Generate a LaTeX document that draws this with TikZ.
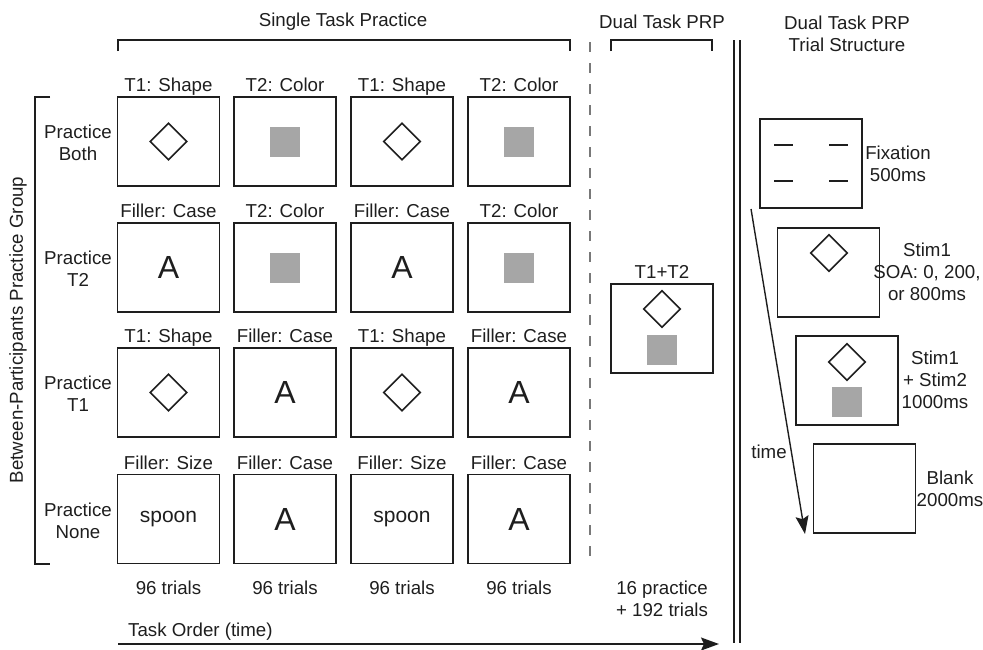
\documentclass[tikz,border=0pt]{standalone}
\usepackage{fontspec}
\setmainfont{Liberation Sans}
\usetikzlibrary{shapes.geometric,arrows.meta}
\definecolor{sqgray}{RGB}{166,166,166}
\definecolor{dashgray}{RGB}{120,120,120}
\definecolor{ink}{RGB}{30,30,30}
\newcommand{\mycell}[4]{%
  \node[scr] (#1) at (#2,#3) {};
  \node[lbl,anchor=base] (#1t) at (#2,#3-50) {#4};}
\newcommand{\mydia}[1]{\node[dia] (#1d) at (#1) {};}
\newcommand{\mysq}[1]{\node[gsq] (#1g) at (#1) {};}
\newcommand{\myA}[1]{\node[bigA] (#1a) at (#1) {A};}
\newcommand{\myspoon}[1]{\node[spoonf] (#1s) at (#1) {spoon};}
\begin{document}
\begin{tikzpicture}[x=1pt,y=-1pt, color=ink,
  lbl/.style={font=\fontsize{18.7}{22}\selectfont, inner sep=0pt, align=center},
  scr/.style={draw, line width=1.6pt, minimum width=102pt, minimum height=89pt, inner sep=0pt},
  dia/.style={diamond, draw, line width=1.6pt, minimum width=37pt, minimum height=37pt, inner sep=0pt},
  gsq/.style={fill=sqgray, minimum size=30pt, inner sep=0pt},
  bigA/.style={font=\fontsize{32}{32}\selectfont, inner sep=0pt},
  spoonf/.style={font=\fontsize{21}{21}\selectfont, inner sep=0pt},
  brk/.style={line width=1.6pt},
  arr/.style={line width=1.6pt, -{Stealth[length=18pt,width=13pt,inset=3pt]}}]
\useasboundingbox (0,0) rectangle (983,649);

% headers
\node[lbl] (hsingle) at (343,22) {Single Task Practice};
\node[lbl] (hdual) at (662,22) {Dual Task PRP};
\node[lbl] (htrial) at (847,34) {Dual Task PRP\\Trial Structure};
\draw[brk] (118,51) -- (118,40) -- (570,40) -- (570,51);
\draw[brk] (611,51) -- (611,40) -- (712,40) -- (712,51);

% left group bracket
\draw[brk] (50,97) -- (35,97) -- (35,564) -- (50,564);
\node[lbl, rotate=90] (grp) at (18,330) {Between-Participants Practice Group};

% row labels
\node[lbl] (r1) at (78,143) {Practice\\Both};
\node[lbl] (r2) at (78,269) {Practice\\T2};
\node[lbl] (r3) at (78,394) {Practice\\T1};
\node[lbl] (r4) at (78,520.5) {Practice\\None};

% row 1
\mycell{b11}{168.5}{141.5}{T1: Shape} \mydia{b11}
\mycell{b12}{285}{141.5}{T2: Color} \mysq{b12}
\mycell{b13}{402}{141.5}{T1: Shape} \mydia{b13}
\mycell{b14}{519}{141.5}{T2: Color} \mysq{b14}
% row 2
\mycell{b21}{168.5}{267.5}{Filler: Case} \myA{b21}
\mycell{b22}{285}{267.5}{T2: Color} \mysq{b22}
\mycell{b23}{402}{267.5}{Filler: Case} \myA{b23}
\mycell{b24}{519}{267.5}{T2: Color} \mysq{b24}
% row 3
\mycell{b31}{168.5}{392.5}{T1: Shape} \mydia{b31}
\mycell{b32}{285}{392.5}{Filler: Case} \myA{b32}
\mycell{b33}{402}{392.5}{T1: Shape} \mydia{b33}
\mycell{b34}{519}{392.5}{Filler: Case} \myA{b34}
% row 4
\mycell{b41}{168.5}{519}{Filler: Size} \myspoon{b41}
\mycell{b42}{285}{519}{Filler: Case} \myA{b42}
\mycell{b43}{402}{519}{Filler: Size} \myspoon{b43}
\mycell{b44}{519}{519}{Filler: Case} \myA{b44}

% trials
\node[lbl] (n1) at (168.5,588) {96 trials};
\node[lbl] (n2) at (285,588) {96 trials};
\node[lbl] (n3) at (402,588) {96 trials};
\node[lbl] (n4) at (519,588) {96 trials};
\node[lbl] (n5) at (662,599) {16 practice\\+ 192 trials};

% dashed separator
\draw[draw=dashgray, line width=1.4pt, dash pattern=on 10pt off 11pt] (590,42) -- (590,563);

% dual task
\node[scr] (dual) at (662,328.5) {};
\node[lbl,anchor=base] (dualt) at (662,278.5) {T1+T2};
\node[dia] (duald) at (662,309) {};
\node[gsq] (dualg) at (662,350) {};

% double line
\draw[line width=1.6pt] (734,40) -- (734,643);
\draw[line width=1.6pt] (740,40) -- (740,643);

% task order arrow
\node[lbl, anchor=west] (torder) at (128,632) {Task Order (time)};
\coordinate (ta) at (118,644);
\coordinate (tb) at (719,644);
\draw[arr] (ta) -- (tb);

% trial structure
\node[scr] (fix) at (811,163.5) {};
\draw[line width=1.8pt] (774,145) -- (793,145) (829,145) -- (848,145)
  (774,181) -- (793,181) (829,181) -- (848,181);
\node[lbl] (fixt) at (898,163.5) {Fixation\\500ms};

\node[scr] (st1) at (828.5,272.5) {};
\node[dia] (st1d) at (829,253) {};
\node[lbl] (st1t) at (927,272) {Stim1\\SOA: 0, 200,\\or 800ms};

\node[scr] (st2) at (847,380.5) {};
\node[dia] (st2d) at (847,362) {};
\node[gsq] (st2g) at (847,402) {};
\node[lbl] (st2t) at (935,380) {Stim1\\+ Stim2\\1000ms};

\node[scr] (blank) at (864.5,488.5) {};
\node[lbl] (blankt) at (950,489) {Blank\\2000ms};

\coordinate (tma) at (751,209);
\coordinate (tmb) at (805,534);
\draw[arr, line width=1.4pt] (tma) -- (tmb);
\node[lbl] (timet) at (769,452) {time};
\end{tikzpicture}
\end{document}
